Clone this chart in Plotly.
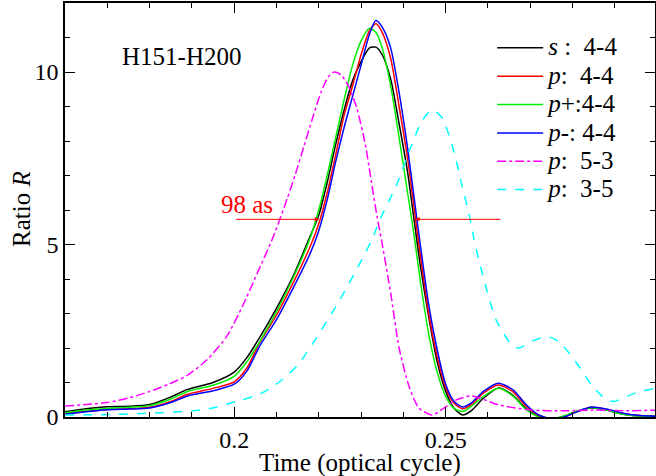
import plotly.graph_objects as go

# ---- data ----
t_main = [0.160, 0.165, 0.170, 0.175, 0.180, 0.185, 0.189, 0.195, 0.200, 0.203,
          0.206, 0.210, 0.214, 0.218, 0.220, 0.222, 0.224, 0.226, 0.228, 0.230,
          0.232, 0.2335, 0.235, 0.237, 0.239, 0.241, 0.2425, 0.244, 0.246, 0.248,
          0.250, 0.252, 0.254, 0.256, 0.259, 0.2625, 0.266, 0.269, 0.272, 0.275,
          0.278, 0.281, 0.2845, 0.288, 0.292, 0.296, 0.300]

s_44 = [0.15, 0.24, 0.30, 0.31, 0.36, 0.58, 0.80, 1.00, 1.30, 1.72,
        2.30, 3.15, 4.1, 5.25, 5.85, 6.8, 7.9, 8.9, 9.75, 10.3,
        10.7, 10.72, 10.5, 9.8, 8.5, 7.1, 5.75, 4.4, 2.9, 1.6,
        0.75, 0.25, 0.06, 0.18, 0.55, 0.84, 0.62, 0.25, 0.02, -0.05,
        0.02, 0.16, 0.26, 0.20, 0.08, 0.03, 0.02]

p_44 = [0.10, 0.17, 0.22, 0.24, 0.28, 0.45, 0.66, 0.83, 1.02, 1.42,
        2.15, 2.95, 3.9, 4.95, 5.6, 6.5, 7.6, 8.75, 9.6, 10.5,
        11.2, 11.4, 11.15, 10.4, 9.0, 7.5, 6.1, 4.7, 3.0, 1.75,
        0.85, 0.40, 0.24, 0.35, 0.70, 0.93, 0.72, 0.32, 0.05, -0.05,
        0.0, 0.15, 0.28, 0.22, 0.10, 0.04, 0.02]

pplus_44 = [0.12, 0.20, 0.25, 0.28, 0.33, 0.52, 0.74, 0.92, 1.18, 1.60,
            2.18, 3.05, 4.05, 5.2, 6.0, 7.0, 8.1, 9.2, 10.2, 10.9,
            11.27, 11.15, 10.7, 9.6, 8.1, 6.5, 5.3, 3.95, 2.4, 1.3,
            0.60, 0.25, 0.16, 0.30, 0.60, 0.83, 0.60, 0.22, 0.0, -0.05,
            0.03, 0.17, 0.27, 0.20, 0.08, 0.03, 0.02]

pminus_44 = [0.08, 0.15, 0.21, 0.23, 0.26, 0.42, 0.61, 0.76, 0.95, 1.33,
             2.05, 2.82, 3.75, 4.75, 5.4, 6.3, 7.4, 8.4, 9.3, 10.2,
             11.1, 11.49, 11.3, 10.7, 9.4, 7.8, 6.4, 5.0, 3.25, 1.95,
             0.95, 0.45, 0.29, 0.40, 0.75, 0.98, 0.78, 0.36, 0.06, -0.04,
             0.0, 0.15, 0.29, 0.23, 0.11, 0.04, 0.02]

t_53 = [0.160, 0.165, 0.170, 0.175, 0.180, 0.1845, 0.1888, 0.1935, 0.1982, 0.202,
        0.2055, 0.2091, 0.2107, 0.2126, 0.2145, 0.2165, 0.2185, 0.2205, 0.2222, 0.2237,
        0.2252, 0.227, 0.229, 0.231, 0.2324, 0.2338, 0.2348, 0.237, 0.239, 0.2414,
        0.2437, 0.2468, 0.2495, 0.2524, 0.2562, 0.2626, 0.2704, 0.2784, 0.285, 0.292,
        0.300]
p_53 = [0.32, 0.36, 0.42, 0.55, 0.74, 0.95, 1.20, 1.65, 2.33, 3.22,
        4.18, 5.18, 5.70, 6.35, 7.05, 7.85, 8.65, 9.40, 9.85, 10.0,
        9.92, 9.6, 8.95, 7.9, 6.85, 5.8, 5.15, 3.6, 2.0, 0.87,
        0.26, 0.06, 0.25, 0.49, 0.61, 0.35, 0.20, 0.18, 0.20, 0.18,
        0.20]

t_35 = [0.160, 0.170, 0.180, 0.1902, 0.1949, 0.1996, 0.206, 0.210, 0.215, 0.220,
        0.225, 0.2295, 0.2326, 0.2345, 0.2383, 0.242, 0.2445, 0.2468, 0.249, 0.2515,
        0.2539, 0.2558, 0.2567, 0.259, 0.2619, 0.2657, 0.2673, 0.2705, 0.2739, 0.2767,
        0.2807, 0.2845, 0.2878, 0.2897, 0.2949, 0.300]
p_35 = [0.06, 0.07, 0.11, 0.18, 0.26, 0.42, 0.66, 0.95, 1.5, 2.4,
        3.4, 4.4, 5.15, 5.73, 6.7, 7.9, 8.6, 8.9, 8.7, 7.9,
        6.7, 5.73, 5.15, 4.0, 2.82, 2.08, 2.0, 2.2, 2.33, 2.19,
        1.61, 0.93, 0.52, 0.45, 0.70, 0.84]

x_ticks = [0.2, 0.25]
x_ticklabels = ["0.2", "0.25"]
y_ticks = [0, 5, 10]
y_ticklabels = ["0", "5", "10"]

# FWHM arrows (data coords)
arrow_level = 5.73
left_arrow = (0.2001, 0.2201)
right_arrow = (0.2633, 0.2428)

FONT = "Liberation Serif, Times New Roman, serif"
TXT = 25


def big(s):
    return '<span style="font-size:%dpx">%s</span>' % (TXT, s)


fig = go.Figure()
series = [
    (t_main, s_44, "<i>s</i> :  4-4", "#000000", "solid"),
    (t_main, p_44, "<i>p</i>:  4-4", "#ff0000", "solid"),
    (t_main, pplus_44, "<i>p</i>+:4-4", "#00ee00", "solid"),
    (t_main, pminus_44, "<i>p</i>-: 4-4", "#0000ff", "solid"),
    (t_53, p_53, "<i>p</i>:  5-3", "#ff00ff", "dashdot"),
    (t_35, p_35, "<i>p</i>:  3-5", "#00ffff", "dash"),
]
for xs, ys, name, color, dash in series:
    fig.add_trace(go.Scatter(x=xs, y=ys, mode="lines", name=big(name),
                             line=dict(color=color, width=1.5, dash=dash,
                                       shape="spline", smoothing=0.7)))

fig.add_annotation(x=left_arrow[1], y=arrow_level, ax=left_arrow[0], ay=arrow_level,
                   xref="x", yref="y", axref="x", ayref="y", text="",
                   showarrow=True, arrowhead=2, arrowsize=0.9, arrowwidth=1,
                   arrowcolor="#ff0000")
fig.add_annotation(x=right_arrow[1], y=arrow_level, ax=right_arrow[0], ay=arrow_level,
                   xref="x", yref="y", axref="x", ayref="y", text="",
                   showarrow=True, arrowhead=2, arrowsize=0.9, arrowwidth=1,
                   arrowcolor="#ff0000")
fig.add_annotation(x=0.2030, y=6.15, xref="x", yref="y", text="98 as",
                   showarrow=False, font=dict(family=FONT, size=TXT, color="#ff0000"))
fig.add_annotation(x=0.1875, y=10.45, xref="x", yref="y", text="H151-H200",
                   showarrow=False, font=dict(family=FONT, size=TXT, color="#000000"))
# axis titles
fig.add_annotation(x=0.5, y=-0.112, xref="paper", yref="paper",
                   text="Time (optical cycle)", showarrow=False,
                   xanchor="center", yanchor="middle",
                   font=dict(family=FONT, size=TXT, color="black"))
fig.add_annotation(x=-0.075, y=0.502, xref="paper", yref="paper",
                   text="Ratio <i>R</i>", showarrow=False, textangle=-90,
                   xanchor="center", yanchor="middle",
                   font=dict(family=FONT, size=TXT, color="black"))

axis_common = dict(showline=True, linecolor="black", linewidth=1.5, mirror="ticks",
                   ticks="inside", ticklen=10, tickwidth=1.2, tickcolor="black",
                   showgrid=False, zeroline=False, automargin=False,
                   tickfont=dict(family=FONT, size=24, color="black"))

fig.update_xaxes(range=[0.16, 0.2995], tickvals=x_ticks, ticktext=x_ticklabels,
                 minor=dict(dtick=0.01, tick0=0.16, ticks="inside", ticklen=5,
                            tickcolor="black", tickwidth=1.2, showgrid=False),
                 **axis_common)
fig.update_yaxes(range=[0, 12], tickvals=y_ticks, ticktext=y_ticklabels,
                 minor=dict(dtick=1, tick0=0, ticks="inside", ticklen=5,
                            tickcolor="black", tickwidth=1.2, showgrid=False),
                 **axis_common)

fig.update_layout(
    width=656, height=476,
    margin=dict(l=65, r=1, t=3, b=59),
    plot_bgcolor="white", paper_bgcolor="white",
    font=dict(family=FONT, size=22, color="black"),
    showlegend=True,
    legend=dict(x=0.724, y=0.938, xanchor="left", yanchor="top",
                bgcolor="rgba(0,0,0,0)", borderwidth=0,
                font=dict(family=FONT, size=19.5, color="black"),
                itemwidth=46, tracegroupgap=0),
)

fig.write_html("out.html", config={"displayModeBar": False},
               post_script="document.body.style.margin='0';document.body.style.overflow='hidden';")
